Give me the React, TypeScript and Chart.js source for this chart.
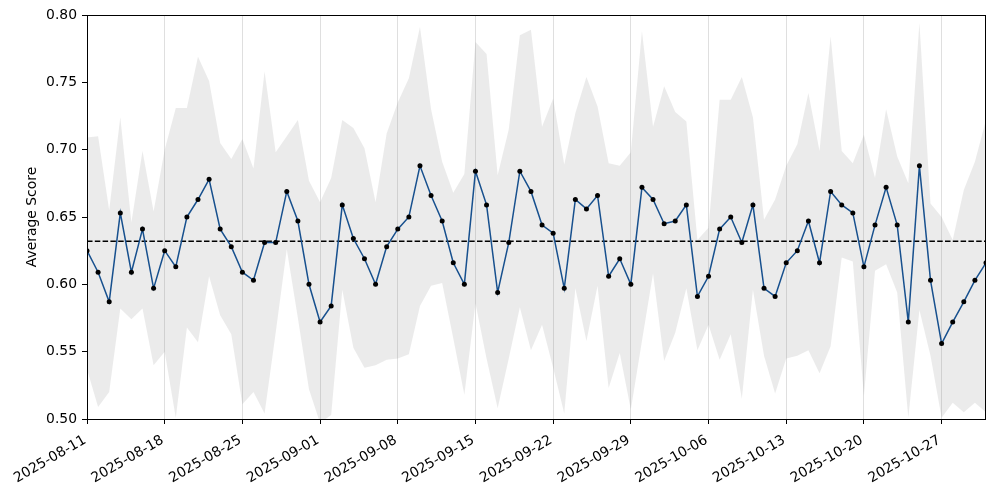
import React, { useEffect, useRef } from "react";
import { Chart, registerables } from "chart.js";

Chart.register(...registerables);

const startDate = "2025-08-11";
const dayCount = 82;
const weekTickIdx = [0, 7, 14, 21, 28, 35, 42, 49, 56, 63, 70, 77];

const scores = [
  0.625, 0.609, 0.587, 0.653, 0.609, 0.641, 0.597, 0.625, 0.613, 0.650,
  0.663, 0.678, 0.641, 0.628, 0.609, 0.603, 0.631, 0.631, 0.669, 0.647,
  0.600, 0.572, 0.584, 0.659, 0.634, 0.619, 0.600, 0.628, 0.641, 0.650,
  0.688, 0.666, 0.647, 0.616, 0.600, 0.684, 0.659, 0.594, 0.631, 0.684,
  0.669, 0.644, 0.638, 0.597, 0.663, 0.656, 0.666, 0.606, 0.619, 0.600,
  0.672, 0.663, 0.645, 0.647, 0.659, 0.591, 0.606, 0.641, 0.650, 0.631,
  0.659, 0.597, 0.591, 0.616, 0.625, 0.647, 0.616, 0.669, 0.659, 0.653,
  0.613, 0.644, 0.672, 0.644, 0.572, 0.688, 0.603, 0.556, 0.572, 0.587,
  0.603, 0.616,
];

const upperBand = [
  0.709, 0.710, 0.655, 0.724, 0.646, 0.699, 0.654, 0.700, 0.731, 0.731,
  0.769, 0.751, 0.705, 0.693, 0.708, 0.686, 0.758, 0.698, 0.710, 0.722,
  0.677, 0.661, 0.679, 0.722, 0.716, 0.701, 0.661, 0.712, 0.735, 0.753,
  0.791, 0.730, 0.691, 0.668, 0.682, 0.780, 0.771, 0.681, 0.715, 0.785,
  0.789, 0.717, 0.738, 0.689, 0.727, 0.754, 0.732, 0.690, 0.688, 0.698,
  0.788, 0.717, 0.747, 0.728, 0.721, 0.633, 0.642, 0.737, 0.737, 0.754,
  0.724, 0.648, 0.663, 0.688, 0.704, 0.742, 0.699, 0.784, 0.699, 0.690,
  0.711, 0.679, 0.730, 0.695, 0.675, 0.794, 0.660, 0.650, 0.633, 0.670,
  0.691, 0.722,
];

const lowerBand = [
  0.537, 0.509, 0.520, 0.582, 0.574, 0.582, 0.540, 0.550, 0.501, 0.568,
  0.557, 0.606, 0.577, 0.563, 0.511, 0.520, 0.504, 0.564, 0.626, 0.575,
  0.522, 0.497, 0.503, 0.596, 0.553, 0.538, 0.540, 0.544, 0.545, 0.548,
  0.584, 0.599, 0.601, 0.560, 0.518, 0.586, 0.545, 0.508, 0.545, 0.583,
  0.551, 0.570, 0.538, 0.504, 0.597, 0.558, 0.599, 0.523, 0.549, 0.507,
  0.558, 0.608, 0.543, 0.564, 0.597, 0.551, 0.570, 0.544, 0.563, 0.515,
  0.596, 0.547, 0.519, 0.545, 0.547, 0.551, 0.534, 0.554, 0.620, 0.617,
  0.517, 0.610, 0.615, 0.594, 0.501, 0.581, 0.547, 0.501, 0.512, 0.505,
  0.512, 0.505,
];

const meanScore = 0.632;
const yTicks = [0.5, 0.55, 0.6, 0.65, 0.7, 0.75, 0.8];

function makeDates(start: string, n: number): string[] {
  const out: string[] = [];
  const t0 = Date.parse(start + "T00:00:00Z");
  for (let i = 0; i < n; i++) {
    out.push(new Date(t0 + i * 86400000).toISOString().slice(0, 10));
  }
  return out;
}

const dates = makeDates(startDate, dayCount);

const FONT = { family: "'DejaVu Sans', sans-serif", size: 13.9 };

const framePlugin = {
  id: "frame",
  afterDatasetsDraw(chart: any) {
    const { ctx, chartArea } = chart;
    ctx.save();
    ctx.strokeStyle = "#000";
    ctx.lineWidth = 1;
    ctx.strokeRect(
      Math.round(chartArea.left) + 0.5,
      Math.round(chartArea.top) + 0.5,
      Math.round(chartArea.right - chartArea.left) - 1,
      Math.round(chartArea.bottom - chartArea.top)
    );
    ctx.restore();
  },
};

export default function App() {
  const ref = useRef<HTMLCanvasElement | null>(null);

  useEffect(() => {
    if (!ref.current) return;
    const pts = (arr: number[]) => arr.map((v, i) => ({ x: i, y: v }));
    const chart = new Chart(ref.current, {
      type: "line",
      data: {
        datasets: [
          {
            label: "score",
            data: pts(scores),
            borderColor: "#17508e",
            borderWidth: 1.5,
            pointRadius: 2.5,
            pointBackgroundColor: "#000",
            pointBorderWidth: 0,
            fill: false,
            tension: 0,
            order: 0,
          },
          {
            label: "mean",
            data: [
              { x: 0, y: meanScore },
              { x: dayCount - 1, y: meanScore },
            ],
            borderColor: "#000",
            borderWidth: 1.4,
            borderDash: [5.5, 2.3],
            pointRadius: 0,
            fill: false,
            order: 1,
          },
          {
            label: "upper",
            data: pts(upperBand),
            borderWidth: 0,
            borderColor: "rgba(0,0,0,0)",
            pointRadius: 0,
            backgroundColor: "rgba(128,128,128,0.16)",
            fill: 3,
            tension: 0,
            order: 2,
          },
          {
            label: "lower",
            data: pts(lowerBand),
            borderWidth: 0,
            borderColor: "rgba(0,0,0,0)",
            pointRadius: 0,
            fill: false,
            tension: 0,
            order: 3,
          },
        ],
      },
      options: {
        animation: false,
        responsive: true,
        maintainAspectRatio: false,
        layout: { padding: { left: 0, top: 15, right: 10, bottom: 0 } },
        plugins: {
          legend: { display: false },
          tooltip: { enabled: false },
        },
        scales: {
          x: {
            type: "linear",
            min: 0,
            max: dayCount - 1,
            afterBuildTicks: (scale: any) => {
              scale.ticks = weekTickIdx.map((v) => ({ value: v }));
            },
            afterFit: (scale: any) => {
              scale.height = 73;
            },
            ticks: {
              autoSkip: false,
              maxRotation: 30,
              minRotation: 30,
              padding: 8,
              labelOffset: -2,
              color: "#000",
              font: FONT,
              callback: (v: any) => dates[Math.round(Number(v))] ?? "",
            },
            grid: {
              color: "rgba(176,176,176,0.4)",
              lineWidth: 1,
              tickColor: "#000",
              tickLength: 5,
            },
            border: { display: false },
          },
          y: {
            min: 0.5,
            max: 0.8,
            afterBuildTicks: (scale: any) => {
              scale.ticks = yTicks.map((v) => ({ value: v }));
            },
            afterFit: (scale: any) => {
              scale.width = 87;
            },
            ticks: {
              padding: 5,
              color: "#000",
              font: FONT,
              callback: (v: any) => Number(v).toFixed(2),
            },
            grid: {
              drawOnChartArea: false,
              tickColor: "#000",
              tickLength: 5,
            },
            border: { display: false },
            title: {
              display: true,
              text: "Average Score",
              color: "#000",
              font: FONT,
              padding: { top: 24, bottom: 0 },
            },
          },
        },
      },
      plugins: [framePlugin],
    });
    return () => chart.destroy();
  }, []);

  return (
    <div
      style={{
        position: "fixed",
        left: 0,
        top: 0,
        width: 996,
        height: 492,
        background: "#fff",
      }}
    >
      <canvas ref={ref} />
    </div>
  );
}
